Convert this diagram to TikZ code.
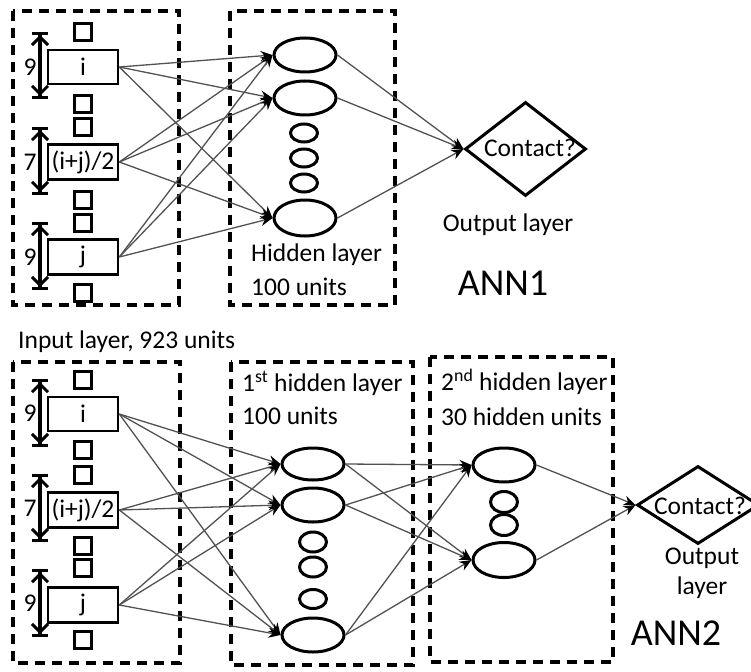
\documentclass[tikz,border=0pt]{standalone}
\usepackage{fontspec}
\setmainfont{Carlito}
\usetikzlibrary{shapes.geometric,arrows.meta}

\tikzset{
  layerbox/.style={draw=black, line width=3.2pt, dash pattern=on 10pt off 7pt},
  unitsq/.style={draw, line width=2.6pt, minimum width=17pt, minimum height=17pt, inner sep=0pt},
  inbox/.style={draw, line width=2.6pt, minimum width=70pt, minimum height=34pt, inner sep=0pt},
  neuron/.style={ellipse, draw, line width=3pt, minimum width=62pt, minimum height=34pt, inner sep=0pt},
  dotneuron/.style={ellipse, draw, line width=3pt, minimum width=27pt, minimum height=18pt, inner sep=0pt},
  outshape/.style={diamond, draw, line width=3pt, inner sep=0pt},
  span/.style={line width=3.6pt,
    {Bar[width=16pt,line width=3pt]Straight Barb[length=8pt,width=16pt,line width=3pt]}-{Straight Barb[length=8pt,width=16pt,line width=3pt]Bar[width=16pt,line width=3pt]}},
  link/.style={draw=black!68, line width=1.3pt},
  alink/.style={link, -{Stealth[length=12pt,width=10pt,inset=4pt,black]}},
  txt/.style={font=\fontsize{25.5}{28}\selectfont, inner sep=0pt},
  big/.style={font=\fontsize{38}{42}\selectfont, inner sep=0pt}
}

\begin{document}
\begin{tikzpicture}[x=1pt,y=-1pt]
\useasboundingbox (0,0) rectangle (751,671);

% ---------------- ANN1 ----------------
\draw[layerbox] (13,11) rectangle (179,305);
\draw[layerbox] (230,11) rectangle (395,305);

% input units
\node[unitsq] (a1) at (83,32) {};
\node[inbox, txt] (ai) at (83,67) {i};
\node[unitsq] (a2) at (83,104) {};
\node[unitsq] (a3) at (83,127) {};
\node[inbox, txt, minimum height=35pt] (am) at (83,162) {(i+j)/2};
\node[unitsq] (a4) at (83,200) {};
\node[unitsq] (a5) at (83,223) {};
\node[inbox, txt, minimum height=35pt] (aj) at (83,257) {j};
\node[unitsq] (a6) at (83,293) {};

% window spans
\coordinate (s1t) at (40,32);  \coordinate (s1b) at (40,99);
\coordinate (s2t) at (40,127); \coordinate (s2b) at (40,195);
\coordinate (s3t) at (40,222); \coordinate (s3b) at (40,290);
\draw[span] (s1t) -- (s1b);
\draw[span] (s2t) -- (s2b);
\draw[span] (s3t) -- (s3b);
\node[txt] (n1) at (30,67) {9};
\node[txt] (n2) at (30,162) {7};
\node[txt] (n3) at (30,257) {9};

% hidden units
\node[neuron] (h1) at (305,55) {};
\node[neuron] (h2) at (305,98) {};
\node[dotneuron] (hd1) at (304,133) {};
\node[dotneuron] (hd2) at (304,158) {};
\node[dotneuron] (hd3) at (304,183) {};
\node[neuron, minimum height=36pt] (h4) at (305,218) {};
\node[txt, anchor=west] (hl1) at (251,255) {Hidden layer};
\node[txt, anchor=west] (hl2) at (251,287) {100 units};

% output
\node[outshape, minimum width=121pt, minimum height=94pt] (o1) at (525.5,149) {};
\node[txt] (o1t) at (530,148) {Contact?};
\node[txt] (o1l) at (508,225) {Output layer};
\node[big] (ann1) at (503,283) {ANN1};

\foreach \s in {ai,am,aj}
  \foreach \t in {h1,h2,h4}
    \draw[alink] (\s.east) -- (\t.west);
\foreach \t in {h1,h2,h4}
  \draw[alink] (\t.east) -- (o1.west);

% ---------------- ANN2 ----------------
\node[txt, anchor=west] (inl) at (18,342) {Input layer, 923 units};

\draw[layerbox] (13,362) rectangle (180,663);
\draw[layerbox] (231,362) rectangle (413,665);
\draw[layerbox] (430,357) rectangle (613,662);

% input units
\node[unitsq] (b1) at (83,380) {};
\node[inbox, txt] (bi) at (83,414) {i};
\node[unitsq] (b2) at (83,450) {};
\node[unitsq] (b3) at (83,475) {};
\node[inbox, txt, minimum height=35pt] (bm) at (83,510) {(i+j)/2};
\node[unitsq] (b4) at (83,546) {};
\node[unitsq] (b5) at (83,568) {};
\node[inbox, txt, minimum height=35pt] (bj) at (83,605) {j};
\node[unitsq] (b6) at (83,640) {};

\coordinate (t1t) at (40,379); \coordinate (t1b) at (40,447);
\coordinate (t2t) at (40,474); \coordinate (t2b) at (40,542);
\coordinate (t3t) at (40,569); \coordinate (t3b) at (40,637);
\draw[span] (t1t) -- (t1b);
\draw[span] (t2t) -- (t2b);
\draw[span] (t3t) -- (t3b);
\node[txt] (m1) at (30,413) {9};
\node[txt] (m2) at (30,508) {7};
\node[txt] (m3) at (30,603) {9};

% first hidden layer
\node[txt, anchor=west] (e1l) at (242,383) {1\textsuperscript{st} hidden layer};
\node[txt, anchor=west] (e2l) at (242,416) {100 units};
\node[neuron, minimum height=32pt] (e1) at (313,464) {};
\node[neuron] (e2) at (313,505) {};
\node[dotneuron, minimum height=20pt] (ed1) at (313,542) {};
\node[dotneuron, minimum height=20pt] (ed2) at (313,567) {};
\node[dotneuron, minimum height=19pt] (ed3) at (313,599) {};
\node[neuron] (e4) at (313,635) {};

% second hidden layer
\node[txt, anchor=west] (f1l) at (441,382) {2\textsuperscript{nd} hidden layer};
\node[txt, anchor=west] (f2l) at (441,417) {30 hidden units};
\node[neuron] (f1) at (504,465) {};
\node[dotneuron, minimum height=21pt] (fd1) at (504,502) {};
\node[dotneuron, minimum height=21pt] (fd2) at (504,525) {};
\node[neuron, minimum height=35pt] (f2) at (504,560) {};

% output
\node[outshape, minimum width=122pt, minimum height=78pt] (o2) at (698,505) {};
\node[txt] (o2t) at (700,506) {Contact?};
\node[txt] (o2l1) at (702,558) {Output};
\node[txt] (o2l2) at (702,588) {layer};
\node[big] (ann2) at (676,633) {ANN2};

\foreach \s in {bi,bm,bj}
  \foreach \t in {e1,e2,e4}
    \draw[alink] (\s.east) -- (\t.west);
\foreach \s in {e1,e2,e4}
  \foreach \t in {f1,f2}
    \draw[alink] (\s.east) -- (\t.west);
\foreach \t in {f1,f2}
  \draw[alink] (\t.east) -- (o2.west);
\end{tikzpicture}
\end{document}
